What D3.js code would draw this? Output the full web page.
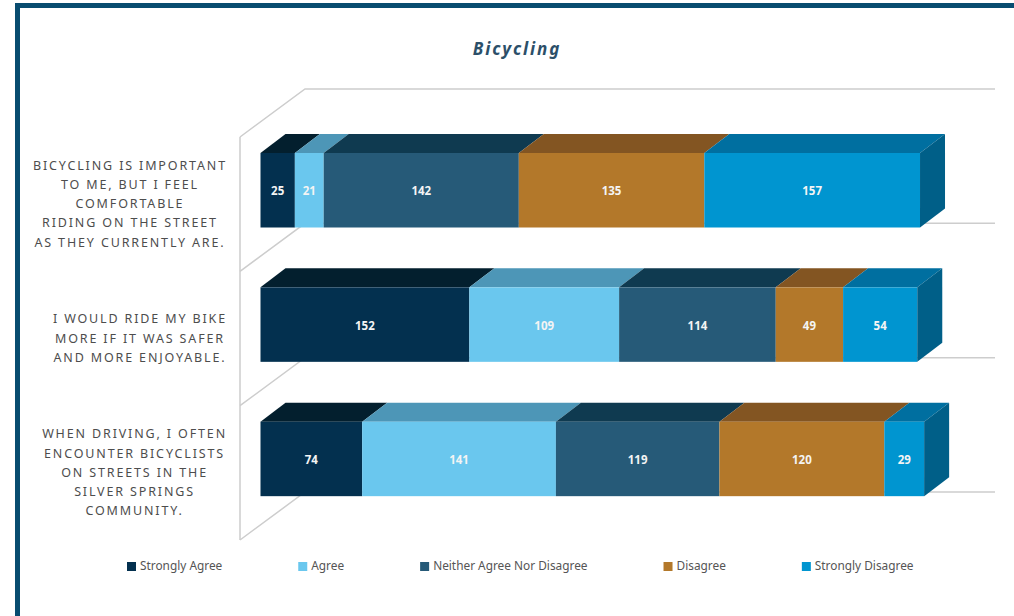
<!DOCTYPE html>
<html>
<head>
<meta charset="utf-8">
<script src="https://cdn.jsdelivr.net/npm/d3@7"></script>
<style>
    html, body { margin: 0; padding: 0; background: #fff; overflow: hidden; }
    svg { display: block; }
    text { font-family: "Noto Sans", sans-serif; }
</style>
</head>
<body>
<svg id="chart" width="1014" height="616"></svg>
<script>
var title = "Bicycling";
var categories = ["q1", "q2", "q3"];
var categoryLines = [
    ["BICYCLING IS IMPORTANT", "TO ME, BUT I FEEL", "COMFORTABLE", "RIDING ON THE STREET", "AS THEY CURRENTLY ARE."],
    ["I WOULD RIDE MY BIKE", "MORE IF IT WAS SAFER", "AND MORE ENJOYABLE."],
    ["WHEN DRIVING, I OFTEN", "ENCOUNTER BICYCLISTS", "ON STREETS IN THE", "SILVER SPRINGS", "COMMUNITY."]
];
var seriesNames = ["Strongly Agree", "Agree", "Neither Agree Nor Disagree", "Disagree", "Strongly Disagree"];
var stronglyAgree = [25, 152, 74];
var agree = [21, 109, 141];
var neither = [142, 114, 119];
var disagree = [135, 49, 120];
var stronglyDisagree = [157, 54, 29];

var faceColors = ["#03304f", "#6ac7ee", "#265a78", "#b3782a", "#0095d0"];
var topColors = ["#031f2e", "#4d96b7", "#0f3a50", "#835522", "#006fa0"];
var sideColor = "#005f88";

var svg = d3.select("#chart");
var depthX = 25, depthY = 19;
var wallX = 65, wallY = 48;

// frame
svg.append("rect").attr("x", 15).attr("y", 3).attr("width", 1010).attr("height", 630)
    .attr("fill", "none").attr("stroke", "#084c70").attr("stroke-width", 5)
    .attr("transform", "translate(2.5,2.5)");

svg.append("text").attr("x", 517).attr("y", 55)
    .attr("text-anchor", "middle")
    .attr("font-size", 17).attr("font-weight", 700).attr("font-style", "italic")
    .attr("letter-spacing", 1.9).attr("fill", "#2c4f69")
    .text(title);

var x = d3.scaleLinear().domain([0, 500]).range([260.5, 947.5]);
var y = d3.scaleBand().domain(categories).range([137, 540]);
var barHeight = 74.5;

// 3d walls
var wall = svg.append("g").attr("fill", "none").attr("stroke", "#cdcdcd").attr("stroke-width", 1.5);
wall.append("line").attr("x1", 240).attr("x2", 240).attr("y1", y.range()[0]).attr("y2", y.range()[1]);
var edges = categories.map(function (c) { return y(c); }).concat([y.range()[1]]);
edges.forEach(function (e) {
    wall.append("path").attr("d", "M240," + e + "L" + (240 + wallX) + "," + (e - wallY) + "L995," + (e - wallY));
});

var rows = categories.map(function (c, i) {
    return { key: c, s0: stronglyAgree[i], s1: agree[i], s2: neither[i], s3: disagree[i], s4: stronglyDisagree[i] };
});
var stack = d3.stack().keys(["s0", "s1", "s2", "s3", "s4"]);
var stacked = stack(rows);

function barTop(c) {
    return y(c) + 16;
}

var bars = svg.append("g");
stacked.forEach(function (layer, li) {
    var g = bars.append("g");
    // top face
    g.selectAll("path.top").data(layer).enter().append("path")
        .attr("class", "top")
        .attr("fill", topColors[li])
        .attr("d", function (d) {
            var t = barTop(d.data.key), x0 = x(d[0]), x1 = x(d[1]);
            return "M" + x0 + "," + t + "L" + (x0 + depthX) + "," + (t - depthY) +
                "L" + (x1 + depthX) + "," + (t - depthY) + "L" + x1 + "," + t + "Z";
        });
    // front face
    g.selectAll("rect").data(layer).enter().append("rect")
        .attr("x", function (d) { return x(d[0]); })
        .attr("y", function (d) { return barTop(d.data.key); })
        .attr("width", function (d) { return x(d[1]) - x(d[0]); })
        .attr("height", barHeight)
        .attr("fill", faceColors[li]);
    // right side of the last segment
    if (li == stacked.length - 1) {
        g.selectAll("path.side").data(layer).enter().append("path")
            .attr("class", "side")
            .attr("fill", sideColor)
            .attr("d", function (d) {
                var t = barTop(d.data.key), x1 = x(d[1]);
                return "M" + x1 + "," + t + "L" + (x1 + depthX) + "," + (t - depthY) +
                    "L" + (x1 + depthX) + "," + (t - depthY + barHeight) + "L" + x1 + "," + (t + barHeight) + "Z";
            });
    }
    g.selectAll("text").data(layer).enter().append("text")
        .attr("x", function (d) { return (x(d[0]) + x(d[1])) / 2; })
        .attr("y", function (d) { return barTop(d.data.key) + barHeight / 2 + 5; })
        .attr("text-anchor", "middle")
        .attr("font-size", 11.5).attr("font-weight", 700).attr("fill", "#f4f4f4")
        .text(function (d) { return d[1] - d[0]; });
});

// category labels, centred in a block that ends at the same right edge
var lineHeight = 19.3;
categories.forEach(function (c, i) {
    var lines = categoryLines[i];
    var midY = y(c) + y.bandwidth() / 2;
    var g = svg.append("g");
    var nodes = g.selectAll("text").data(lines).enter().append("text")
        .attr("y", function (d, j) { return midY + (j - (lines.length - 1) / 2) * lineHeight + 4; })
        .attr("text-anchor", "middle")
        .attr("font-size", 12.5).attr("letter-spacing", 1.86).attr("fill", "#4d4d4d")
        .text(function (d) { return d; });
    var widest = d3.max(nodes.nodes(), function (n) { return n.getComputedTextLength(); });
    nodes.attr("x", 227 - widest / 2);
});

// legend, equal gaps between the entries
var legendX = 127;
seriesNames.forEach(function (name, i) {
    var g = svg.append("g");
    g.append("rect").attr("x", legendX).attr("y", 562).attr("width", 9).attr("height", 9).attr("fill", faceColors[i]);
    var t = g.append("text").attr("x", legendX + 13).attr("y", 570)
        .attr("font-size", 11.85).attr("fill", "#555").text(name);
    legendX += 13 + t.node().getComputedTextLength() + 76;
});
</script>
</body>
</html>
